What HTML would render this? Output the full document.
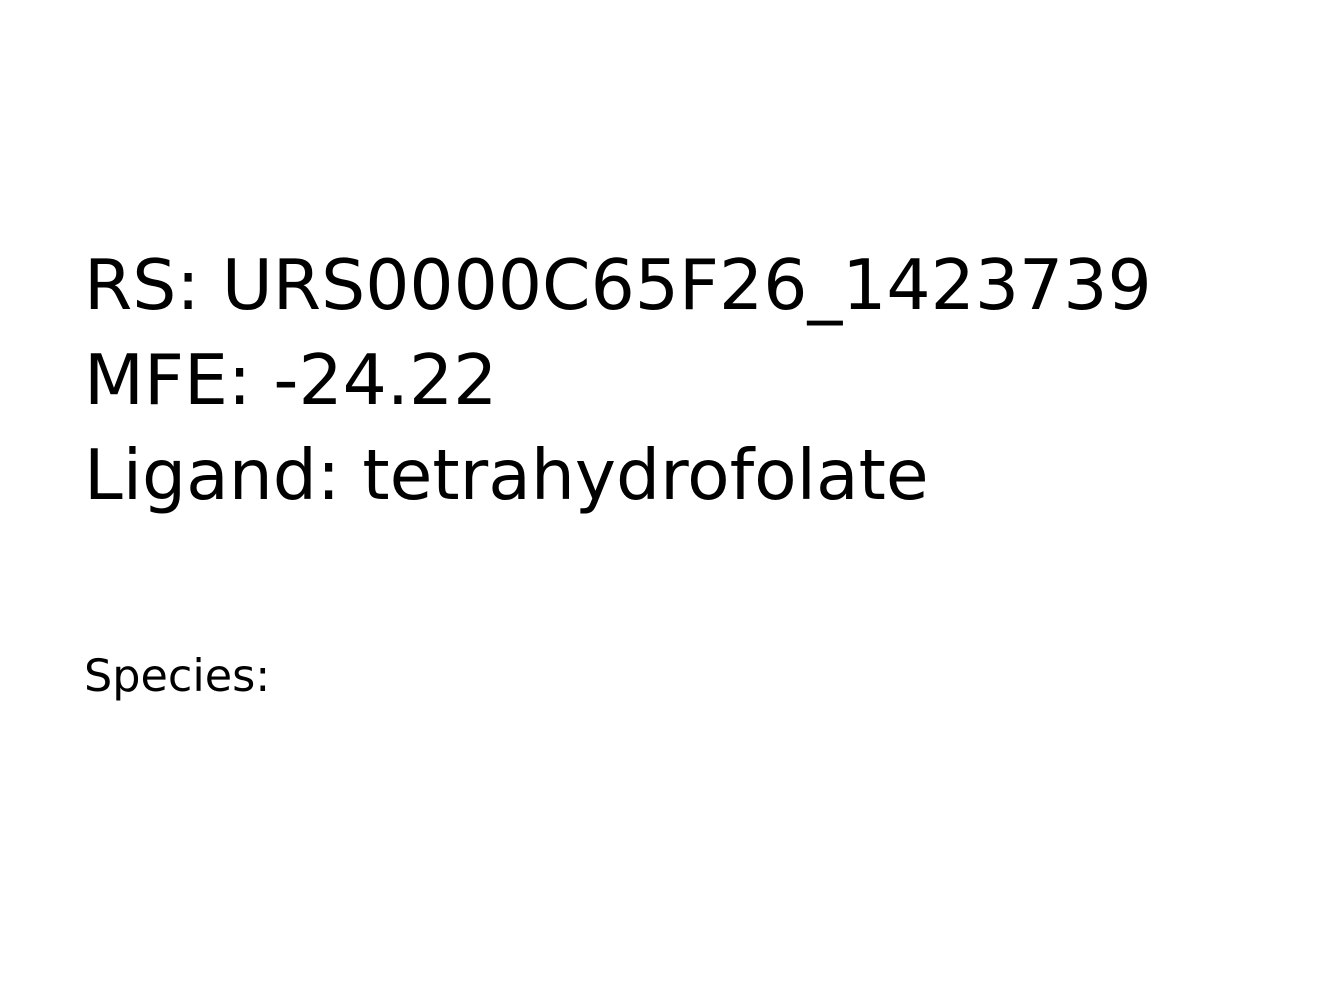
<!DOCTYPE html>
<html><head><meta charset="utf-8"><style>
html,body{margin:0;padding:0;background:#fff;}
svg{display:block;}
text{font-family:"DejaVu Sans","Liberation Sans",sans-serif;fill:#000;}
</style></head><body>
<svg width="1320" height="999" viewBox="0 0 1320 999" xmlns="http://www.w3.org/2000/svg">
<rect width="1320" height="999" fill="#fff"/>
<text x="84" y="309" font-size="69.5">RS: URS0000C65F26_1423739</text>
<text x="84" y="404" font-size="69.5">MFE: -24.22</text>
<text x="84" y="499" font-size="69.5">Ligand: tetrahydrofolate</text>
<text x="84" y="691" font-size="44.5">Species:</text>
</svg>
</body></html>
